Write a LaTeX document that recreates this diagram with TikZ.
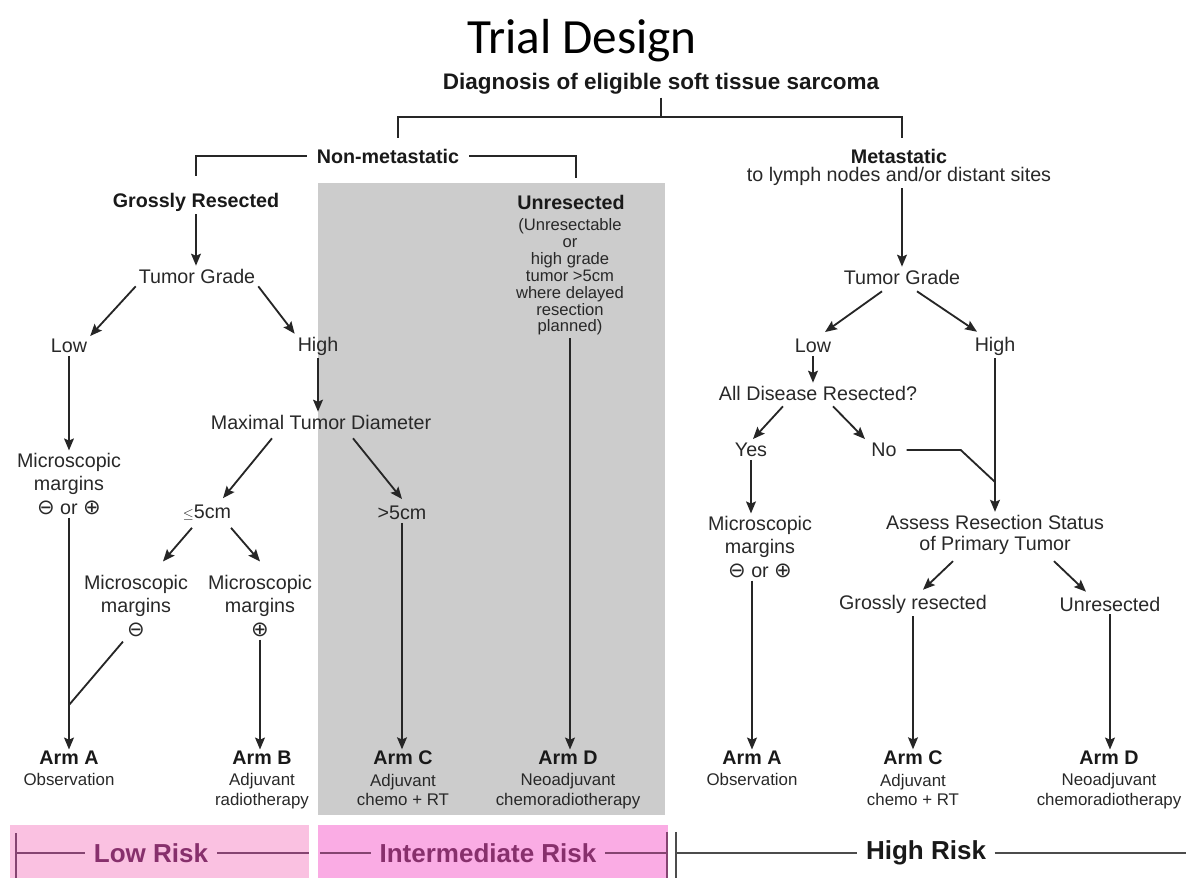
\documentclass[tikz,border=0pt]{standalone}
\usepackage{fontspec}
\setmainfont{Liberation Sans}
\newfontfamily\titlefont{Carlito}
\newfontfamily\symfont{DejaVu Sans}
\usepackage{tikz}
\usetikzlibrary{arrows.meta, positioning, calc}

\definecolor{boxgray}{RGB}{204,204,204}
\definecolor{lowpink}{RGB}{250,193,225}
\definecolor{midpink}{RGB}{250,172,228}
\definecolor{riskpurple}{RGB}{135,48,108}
\definecolor{inkgray}{RGB}{40,40,40}

\newcommand{\fsmain}{\fontsize{14}{15.5}\selectfont}
\newcommand{\fssmall}{\fontsize{12}{14}\selectfont}
\newcommand{\cminus}{{\symfont\fontsize{15}{15}\selectfont ⊖}}
\newcommand{\cplus}{{\symfont\fontsize{15}{15}\selectfont ⊕}}

\begin{document}
\begin{tikzpicture}[
      x=0.025cm, y=-0.025cm,
      txt/.style   = {font=\fsmain, text=inkgray, align=center, inner sep=2pt},
      head/.style  = {txt, font=\fsmain\bfseries, text=black!90},
      margin/.style = {txt, font=\fontsize{14}{16.5}\selectfont},
      armlbl/.style = {font=\fsmain\bfseries, text=black!90, inner sep=1pt},
      desc/.style  = {font=\fssmall, text=inkgray, align=center, inner sep=0pt},
      note/.style  = {font=\fontsize{11.8}{12}\selectfont, text=inkgray, align=center, inner sep=2pt},
      arr/.style   = {-{Stealth[length=8.5pt,width=7pt,inset=1.5pt]}, line width=1.3pt, draw=black!85},
      ln/.style    = {line width=1.3pt, draw=black!85},
      risk/.style  = {font=\fontsize{18.5}{20}\selectfont\bfseries, text=riskpurple, inner sep=6pt},
      riskln/.style = {line width=1pt, draw=riskpurple!75!gray}
    ]

      \useasboundingbox (0,0) rectangle (1186,878);

      % ===================== Backgrounds =====================
      \fill[boxgray] (318,183) rectangle (665,815);
      \fill[lowpink] (10,825) rectangle (309,878);
      \fill[midpink] (318,825) rectangle (668,878);

      % ===================== Heading =====================
      \node[font=\titlefont\fontsize{35}{38}\selectfont, anchor=base] (title) at (582,54) {Trial Design};
      \node[head, font=\fontsize{16}{18}\selectfont\bfseries] (diag) at (661,84) {Diagnosis of eligible soft tissue sarcoma};
      \node[head] (nonmet) at (388,156) {Non-metastatic};
      \node[head] (met)    at (899,156) {Metastatic};
      \node[txt]  (metsub) at (899,176) {to lymph nodes and/or distant sites};

      \coordinate (splitT) at (661,117);
      \draw[ln] (diag.south) -- (splitT);
      \draw[ln] ($(nonmet.north)+(10,-8)$) |- (splitT) -| ($(met.north)+(3,-8)$);

      % ===================== Non-metastatic =====================
      \node[head] (gross) at (196,202) {Grossly Resected};
      \node[head] (unres) at (571,202) {Unresected};
      \node[note] (unresnote) at (570,277) {(Unresectable\\or\\high grade\\tumor >5cm\\where delayed\\resection\\planned)};

      \draw[ln] ([xshift=-5pt]nonmet.west) -| ($(gross.north)+(0,-14)$);
      \draw[ln] ([xshift=5pt]nonmet.east) -| ($(unres.north)+(5,-14)$);

      \node[txt] (tgL)   at (197,276) {Tumor Grade};
      \node[txt] (lowL)  at (69,346)  {Low};
      \node[txt] (highL) at (318,346) {High};
      \node[margin] (microL) at (69,484) {Microscopic\\margins\\\cminus{} or \cplus};
      \node[txt] (maxd)  at (321,422) {Maximal Tumor Diameter};
      \node[txt] (le5)   at (207,513) {{\fontsize{10}{10}\selectfont$\leq$}5cm};
      \node[txt] (gt5)   at (402,513) {>5cm};
      \node[margin] (microNeg) at (136,606) {Microscopic\\margins\\\cminus};
      \node[margin] (microPos) at (260,606) {Microscopic\\margins\\\cplus};

      \draw[arr] (gross.south) -- (gross.south |- tgL.north);
      \draw[arr] (tgL.south west) -- (lowL.north east);
      \draw[arr] (tgL.south east) -- (highL.north west);
      \draw[arr] (lowL.south) -- (lowL.south |- microL.north);
      \draw[arr] (highL.south) -- (highL.south |- maxd.north);
      \draw[arr] ($(maxd.south)+(-49,6)$) -- ($(le5.north)+(16,-4)$);
      \draw[arr] ($(maxd.south)+(32,6)$) -- ($(gt5.north)+(0,-4)$);
      \draw[arr] ($(le5.south)+(-15,4)$) -- ($(microNeg.north)+(27,-11)$);
      \draw[arr] ($(le5.south)+(24,4)$) -- ($(microPos.north)+(0,-11)$);

      % ===================== Arms (left) =====================
      \node[armlbl] (armA) at (69,758)  {Arm A};
      \node[armlbl] (armB) at (262,758) {Arm B};
      \node[armlbl] (armC) at (403,758) {Arm C};
      \node[armlbl] (armD) at (568,758) {Arm D};
      \node[desc, below=5pt of armA] (armAd) {Observation};
      \node[desc, below=5pt of armB] (armBd) {Adjuvant\\radiotherapy};
      \node[desc, below=5pt of armC] (armCd) {Adjuvant\\chemo + RT};
      \node[desc, below=5pt of armD] (armDd) {Neoadjuvant\\chemoradiotherapy};

      \coordinate (joinA) at (69,705);
      \draw[arr] (microL.south) -- (microL.south |- armA.north);
      \draw[ln]  ($(microNeg.south)+(-13,2)$) -- (joinA);
      \draw[arr] (microPos.south) -- (microPos.south |- armB.north);
      \draw[arr] (gt5.south) -- (gt5.south |- armC.north);
      \draw[arr] (unresnote.south) -- (unresnote.south |- armD.north);

      % ===================== Metastatic =====================
      \node[txt] (tgR)    at (902,277) {Tumor Grade};
      \node[txt] (lowR)   at (813,346) {Low};
      \node[txt] (highR)  at (995,346) {High};
      \node[txt] (alldis) at (818,393) {All Disease Resected?};
      \node[txt] (yes)    at (751,450) {Yes};
      \node[txt] (no)     at (884,450) {No};
      \node[margin] (microR) at (760,547) {Microscopic\\margins\\\cminus{} or \cplus};
      \node[txt] (assess) at (995,535) {Assess Resection Status\\of Primary Tumor};
      \node[txt] (grossR) at (913,604) {Grossly resected};
      \node[txt] (unresR) at (1110,604) {Unresected};

      \draw[arr] (tgR.north |- metsub.south) -- (tgR.north);
      \draw[arr] ($(tgR.south)+(-20,4)$) -- ($(lowR.north)+(12,-4)$);
      \draw[arr] ($(tgR.south)+(15,4)$) -- ($(highR.north)+(-18,-2)$);
      \draw[arr] (lowR.south) -- (lowR.south |- alldis.north);
      \draw[arr] ($(alldis.south)+(-35,3)$) -- ($(yes.north)+(2,-1)$);
      \draw[arr] ($(alldis.south)+(15,3)$) -- ($(no.north)+(-19,-1)$);

      % No joins the High branch
      \coordinate (joinH) at (995,482);
      \draw[arr] (highR.south) -- (highR.south |- assess.north);
      \draw[ln]  ([xshift=5pt]no.east) -- ++(54,0) -- (joinH);

      \draw[arr] (yes.south) -- (yes.south |- microR.north);
      \draw[arr] ($(assess.south)+(-42,3)$) -- ($(grossR.north)+(10,-2)$);
      \draw[arr] ($(assess.south)+(59,3)$) -- ($(unresR.north)+(-24,-2)$);

      % ===================== Arms (right) =====================
      \node[armlbl] (armAR) at (752,758)  {Arm A};
      \node[armlbl] (armCR) at (913,758)  {Arm C};
      \node[armlbl] (armDR) at (1109,758) {Arm D};
      \node[desc, below=5pt of armAR] (armARd) {Observation};
      \node[desc, below=5pt of armCR] (armCRd) {Adjuvant\\chemo + RT};
      \node[desc, below=5pt of armDR] (armDRd) {Neoadjuvant\\chemoradiotherapy};

      \draw[arr] (armAR.north |- microR.south) -- (armAR.north);
      \draw[arr] (grossR.south) -- (grossR.south |- armCR.north);
      \draw[arr] (unresR.south) -- (unresR.south |- armDR.north);

      % ===================== Risk bar =====================
      \node[risk] (lowrisk)  at (151,853) {Low Risk};
      \node[risk] (midrisk)  at (488,853) {Intermediate Risk};
      \node[risk, text=black!90] (highrisk) at (926,853) {High Risk};

      \coordinate (lowL0)  at (16,853);
      \coordinate (lowR0)  at (309,853);
      \coordinate (midL0)  at (320,853);
      \coordinate (midR0)  at (667,853);
      \coordinate (highL0) at (676,853);
      \coordinate (highR0) at (1186,853);

      \draw[riskln] ([yshift=14pt]lowL0) -- ([yshift=-18pt]lowL0);
      \draw[riskln] (lowL0) -- (lowrisk.west);
      \draw[riskln] (lowrisk.east) -- (lowR0);
      \draw[riskln] (midL0) -- (midrisk.west);
      \draw[riskln] (midrisk.east) -- (midR0);
      \draw[riskln] ([yshift=15pt]midR0) -- ([yshift=-18pt]midR0);
      \draw[line width=1pt, draw=black!70] ([yshift=15pt]highL0) -- ([yshift=-18pt]highL0);
      \draw[line width=1pt, draw=black!70] (highL0) -- (highrisk.west);
      \draw[line width=1pt, draw=black!70] (highrisk.east) -- (highR0);

    \end{tikzpicture}
\end{document}
